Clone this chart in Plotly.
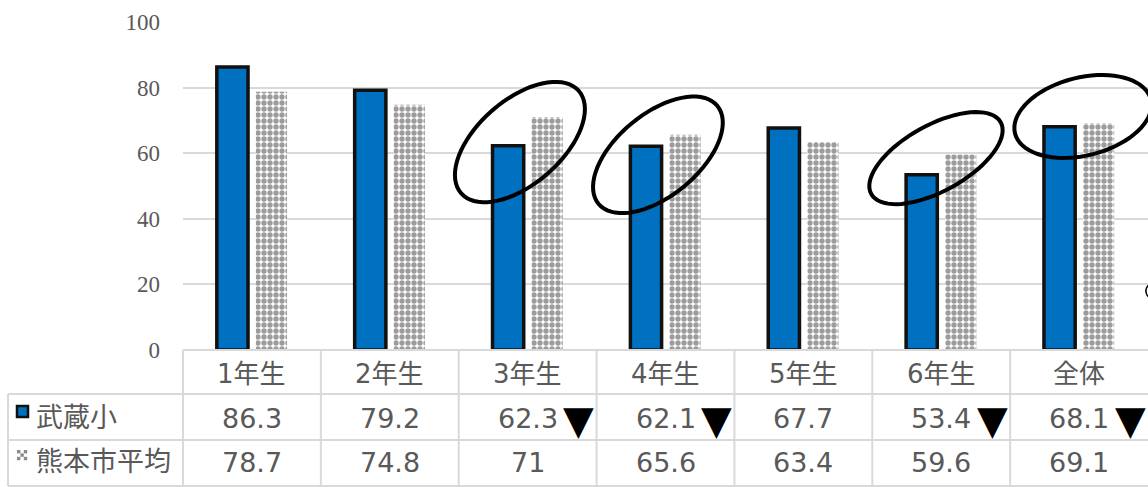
import numpy as np
import plotly.graph_objects as go

# ---- data ----
categories = ["1年生", "2年生", "3年生", "4年生", "5年生", "6年生", "全体"]
musashi = [86.3, 79.2, 62.3, 62.1, 67.7, 53.4, 68.1]
kumamoto = [78.7, 74.8, 71, 65.6, 63.4, 59.6, 69.1]
series_names = ["武蔵小", "熊本市平均"]
y_ticks = [0, 20, 40, 60, 80, 100]

# ellipse highlights: (category index, value at centre, semi-major px, semi-minor px, angle deg, line px)
highlights = [
    (1.944, 63.4, 78, 42, -41, 4),
    (2.945, 59.5, 77, 41, -39.5, 4),
    (4.962, 58.5, 74, 33, -29, 4),
    (6.028, 71.2, 70, 39, -14, 4),
    (6.63, 18.0, 20, 12, 0, 1.5),
]

# ---- geometry of the page ----
W, H = 1148, 487
ML, MR, MT, MB = 183, 0, 22, 137
PW, PH = W - ML - MR, H - MT - MB
N = len(categories)

def px_x(px):
    return (px - ML) / PW

def px_y(py):
    return (H - MB - py) / PH

GRAY = "#595959"
LINE = "#d9d9d9"
FONT = "DejaVu Sans, Noto Sans CJK JP, sans-serif"

fig = go.Figure()
fig.add_trace(go.Bar(
    x=categories, y=musashi, name=series_names[0],
    marker=dict(color="#0070C0", line=dict(color="#111111", width=3.5)),
))
fig.add_trace(go.Bar(
    x=categories, y=kumamoto, name=series_names[1],
    marker=dict(color="white", line=dict(width=0),
                pattern=dict(shape=".", fgcolor="#3a3a3a", bgcolor="white",
                             size=6, solidity=0.62)),
))

shapes = []
# table lines
row_y = [394, 440, 486]
for py in row_y:
    shapes.append(dict(type="line", xref="paper", yref="paper",
                       x0=px_x(8), x1=1, y0=px_y(py), y1=px_y(py),
                       line=dict(color=LINE, width=2)))
shapes.append(dict(type="line", xref="paper", yref="paper",
                   x0=0, x1=1, y0=0, y1=0, line=dict(color=LINE, width=2)))
shapes.append(dict(type="line", xref="paper", yref="paper",
                   x0=px_x(8), x1=px_x(8), y0=px_y(394), y1=px_y(486),
                   line=dict(color=LINE, width=2)))
for k in range(N):
    shapes.append(dict(type="line", xref="paper", yref="paper",
                       x0=k / N, x1=k / N, y0=0, y1=px_y(486),
                       line=dict(color=LINE, width=2)))

# legend keys in table
shapes.append(dict(type="rect", xref="paper", yref="paper",
                   x0=px_x(17), x1=px_x(28), y0=px_y(406), y1=px_y(417),
                   fillcolor="#0070C0", line=dict(color="#111111", width=2.5)))
cs = 3.4
for i in range(3):
    for j in range(3):
        if (i + j) % 2 == 0:
            shapes.append(dict(type="rect", xref="paper", yref="paper",
                               x0=px_x(17 + i * cs), x1=px_x(17 + (i + 1) * cs),
                               y0=px_y(450 + j * cs), y1=px_y(450 + (j + 1) * cs),
                               fillcolor="#8a8a8a", line=dict(width=0)))

# ellipses
t = np.linspace(0, 2 * np.pi, 73)
for ci, cv, a, b, ang, lw in highlights:
    phi = np.radians(ang)
    dx = a * np.cos(t) * np.cos(phi) - b * np.sin(t) * np.sin(phi)
    dy = a * np.cos(t) * np.sin(phi) + b * np.sin(t) * np.cos(phi)
    cx = (ci + 0.5) / N
    cy = cv / 100
    xs = cx + dx / PW
    ys = cy - dy / PH
    path = "M" + " L".join(f"{x:.5f},{y:.5f}" for x, y in zip(xs, ys)) + " Z"
    shapes.append(dict(type="path", xref="paper", yref="paper", path=path,
                       line=dict(color="black", width=lw), fillcolor="rgba(0,0,0,0)"))

annotations = []
# category header row
for i, c in enumerate(categories):
    annotations.append(dict(x=(i + 0.5) / N, y=px_y(374), xref="paper", yref="paper",
                            text=c, showarrow=False, xanchor="center", yanchor="middle",
                            font=dict(family=FONT, size=26, color=GRAY)))
# row labels
for name, py in zip(series_names, [417, 461]):
    annotations.append(dict(x=px_x(34), y=px_y(py), xref="paper", yref="paper",
                            text=name, showarrow=False, xanchor="left", yanchor="middle",
                            font=dict(family=FONT, size=27, color=GRAY)))
# values
for i in range(N):
    cx = (i + 0.5) / N
    low = musashi[i] < kumamoto[i]
    if low:
        annotations.append(dict(x=cx, y=px_y(418), xref="paper", yref="paper",
                                text=f"{musashi[i]:g}", showarrow=False,
                                xanchor="right", yanchor="middle", xshift=32,
                                font=dict(family=FONT, size=27, color=GRAY)))
        annotations.append(dict(x=cx, y=px_y(420), xref="paper", yref="paper",
                                text="▼", showarrow=False,
                                xanchor="center", yanchor="middle", xshift=51,
                                font=dict(family=FONT, size=40, color="black")))
    else:
        annotations.append(dict(x=cx, y=px_y(418), xref="paper", yref="paper",
                                text=f"{musashi[i]:g}", showarrow=False,
                                xanchor="center", yanchor="middle",
                                font=dict(family=FONT, size=27, color=GRAY)))
    annotations.append(dict(x=cx, y=px_y(462), xref="paper", yref="paper",
                            text=f"{kumamoto[i]:g}", showarrow=False,
                            xanchor="center", yanchor="middle",
                            font=dict(family=FONT, size=27, color=GRAY)))

fig.update_layout(
    width=W, height=H,
    margin=dict(l=ML, r=MR, t=MT, b=MB),
    paper_bgcolor="white", plot_bgcolor="white",
    barmode="group", bargap=0.434, bargroupgap=0.2,
    showlegend=False,
    shapes=shapes, annotations=annotations,
    xaxis=dict(type="category", range=[-0.5, N - 0.5], showticklabels=False,
               showgrid=False, showline=False, zeroline=False, ticks=""),
    yaxis=dict(range=[0, 100], tickvals=y_ticks, showgrid=True, gridcolor=LINE,
               gridwidth=2, zeroline=False, showline=False, ticks="",
               ticklabelstandoff=22,
               tickfont=dict(family="Liberation Serif, serif", size=23, color=GRAY)),
)

fig.write_html("out.html",
               config={"displayModeBar": False},
               post_script="document.body.style.margin='0px';"
                           "document.body.style.overflow='hidden';")
